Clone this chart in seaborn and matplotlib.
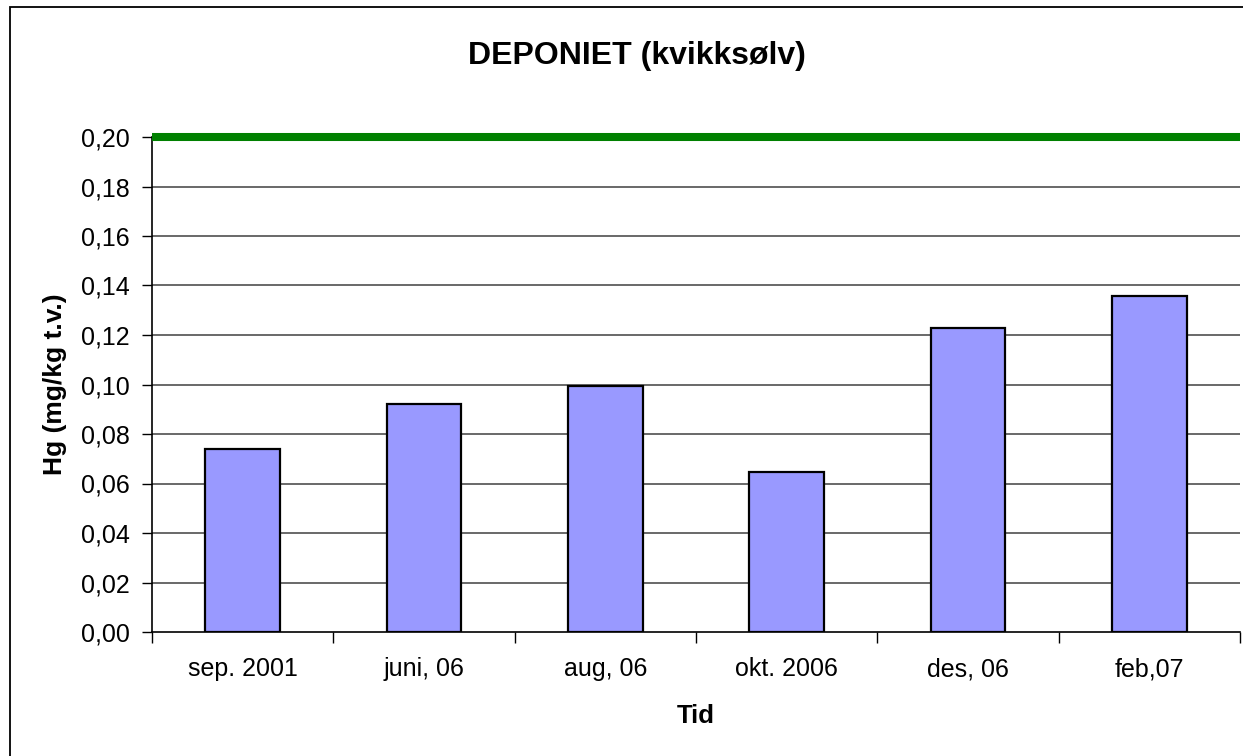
import matplotlib
matplotlib.use("Agg")
import matplotlib.pyplot as plt
import seaborn as sns
import pandas as pd
from matplotlib.patches import Rectangle
from matplotlib.ticker import FixedLocator, FuncFormatter

# data
tider = ["sep. 2001", "juni, 06", "aug, 06", "okt. 2006", "des, 06", "feb,07"]
hg_verdier = [0.074, 0.092, 0.0995, 0.0645, 0.123, 0.1358]
grenseverdi = 0.20
y_ticks = [0.00, 0.02, 0.04, 0.06, 0.08, 0.10, 0.12, 0.14, 0.16, 0.18, 0.20]

df = pd.DataFrame({"Tid": tider, "Hg": hg_verdier})

sns.set_style("white")
plt.rcParams["font.family"] = ["Liberation Sans", "DejaVu Sans"]
plt.rcParams["text.color"] = "black"
plt.rcParams["axes.labelcolor"] = "black"
plt.rcParams["xtick.color"] = "black"
plt.rcParams["ytick.color"] = "black"

fig = plt.figure(figsize=(12.43, 7.56), dpi=100)
ax = fig.add_axes([152 / 1243, 1 - 632 / 756, (1240 - 152) / 1243, (632 - 137) / 756])

# grid lines behind bars
for yv in y_ticks[1:-1]:
    ax.axhline(yv, color="#404040", linewidth=1.1, zorder=0)

sns.barplot(data=df, x="Tid", y="Hg", color="#9999FF", saturation=1,
            edgecolor="black", linewidth=1.6, width=0.41, ax=ax, zorder=2)

# limit line
ax.axhline(grenseverdi, color="#008000", linewidth=5.8, zorder=3, clip_on=False,
           solid_capstyle="butt")

ax.set_ylim(0, 0.20)
ax.set_xlim(-0.5, len(tider) - 0.5)
ax.set_yticks(y_ticks)
ax.yaxis.set_major_formatter(FuncFormatter(lambda v, p: f"{v:.2f}".replace(".", ",")))
ax.xaxis.set_minor_locator(FixedLocator([i - 0.5 for i in range(len(tider) + 1)]))

ax.tick_params(axis="y", which="major", direction="out", length=7, width=1,
               color="black", labelsize=18, pad=9, left=True)
ax.tick_params(axis="x", which="major", length=0, labelsize=18, pad=32)
ax.tick_params(axis="x", which="minor", direction="out", length=8, width=1,
               color="black", bottom=True)
for lbl in ax.get_xticklabels():
    lbl.set_verticalalignment("baseline")

for s in ["top", "right"]:
    ax.spines[s].set_visible(False)
for s in ["left", "bottom"]:
    ax.spines[s].set_color("black")
    ax.spines[s].set_linewidth(1.2)

ax.set_xlabel("Tid", fontsize=18.5, fontweight="bold", labelpad=16)
ax.set_ylabel("Hg (mg/kg t.v.)", fontsize=19, fontweight="bold", labelpad=10)
fig.text(637 / 1243, 1 - 56 / 756, "DEPONIET (kvikksølv)", fontsize=23,
         fontweight="bold", ha="center", va="center")

# outer chart frame (only left and top visible in the crop)
fig.patches.append(Rectangle((10 / 1243, -0.05), 1.2, 1 - 7 / 756 + 0.05,
                             transform=fig.transFigure, fill=False,
                             edgecolor="black", linewidth=1.3))

fig.savefig("out.png", dpi=100)
